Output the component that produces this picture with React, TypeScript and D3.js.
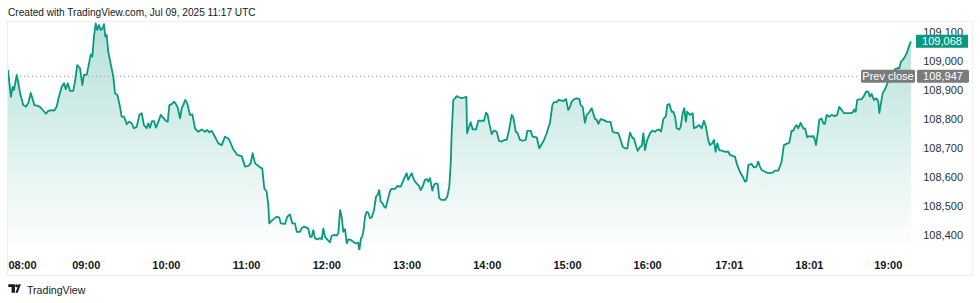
import React from "react";
import * as d3 from "d3";

// minutes after 08:00 UTC
const timeMinutes = [1.5,3.7,5.0,6.0,8.0,9.2,10.5,12.9,15.0,16.7,18.5,19.7,21.2,23.4,25.4,27.5,29.9,31.6,34.2,36.1,37.9,39.6,41.7,43.4,44.7,46.2,47.9,50.3,51.6,53.3,55.4,57.1,58.3,60.4,61.6,63.4,64.6,65.8,67.1,68.3,69.6,70.8,72.3,73.3,74.3,75.3,76.5,78.5,80.3,81.5,83.3,85.3,86.5,88.3,90.3,92.2,94.0,95.7,97.8,99.7,101.5,103.2,105.2,106.4,107.7,109.2,110.7,112.2,113.9,115.7,117.7,119.7,121.0,122.2,124.0,125.7,127.2,128.4,130.2,131.4,132.6,134.1,135.6,137.6,139.4,141.4,143.9,146.4,148.9,150.6,152.1,153.9,156.3,158.8,161.4,163.8,166.3,167.6,169.6,171.3,173.0,176.3,178.8,181.3,183.0,184.5,186.3,188.0,190.0,191.7,193.2,195.0,196.2,197.0,198.0,200.0,202.5,204.5,205.5,208.7,210.4,212.4,214.2,216.2,217.5,219.9,221.2,222.9,226.1,227.4,228.7,229.9,231.1,232.9,234.9,236.2,237.4,238.6,240.6,242.4,243.6,245.4,247.4,248.6,249.9,251.1,252.3,253.6,254.9,256.1,257.9,259.8,261.8,263.5,264.3,265.6,266.5,267.3,268.6,269.8,271.0,272.3,273.6,275.3,276.8,278.0,279.2,280.3,281.8,282.8,284.0,285.2,287.3,288.5,291.0,292.7,295.3,296.8,298.5,299.7,300.9,302.2,303.5,304.7,306.0,307.2,309.0,310.2,311.7,313.4,314.7,315.9,317.2,318.9,320.2,321.4,322.9,324.1,325.9,328.4,330.1,331.6,332.7,333.4,334.6,335.9,337.1,338.9,340.9,343.4,344.4,344.9,346.1,347.6,349.1,351.6,353.3,355.9,357.6,359.1,360.3,361.5,363.3,365.1,367.1,368.8,370.8,372.8,374.6,376.3,378.3,379.5,381.3,382.5,384.5,386.5,388.8,390.0,392.5,394.0,397.0,398.9,400.7,402.5,404.5,405.7,406.9,408.7,409.9,411.9,413.4,415.7,417.4,418.9,420.6,421.9,423.2,424.9,426.9,428.9,429.9,431.4,433.1,434.4,436.1,438.1,439.3,440.6,441.9,443.1,444.9,446.8,449.4,452.3,453.8,455.6,458.0,459.8,461.3,463.0,464.8,466.0,466.8,468.8,469.8,471.3,472.6,474.3,475.6,476.8,478.0,479.7,481.8,483.5,485.5,486.8,488.7,490.0,491.7,493.7,494.7,496.2,498.0,499.2,500.5,501.7,503.7,504.7,506.2,507.4,508.6,509.6,511.6,513.7,514.6,516.7,518.6,520.4,522.1,523.6,525.3,526.6,528.3,529.6,530.8,532.1,533.6,535.4,537.8,540.3,541.6,544.0,545.3,547.0,549.0,551.1,552.8,554.0,555.3,557.8,559.5,561.5,562.7,564.0,565.3,567.7,570.2,573.5,575.2,577.7,578.9,580.2,581.9,583.9,585.9,587.7,588.9,590.2,591.4,592.6,594.4,596.4,597.7,599.4,600.9,602.7,603.9,605.1,605.9,606.9,608.4,610.2,611.3,612.6,613.9,615.8,617.6,620.1,621.8,623.3,625.1,626.8,628.8,631.3,633.3,634.5,635.6,636.8,638.1,640.1,641.8,643.3,645.0,646.3,647.6,649.3,651.3,652.5,653.3,654.3,655.8,657.5,658.8,660.5,662.0,663.7,665.0,666.8,668.2,669.5,671.2,672.5,673.8,675.0,676.3,677.0];

const priceValues = [108969,108876,108911,108900,108952,108924,108890,108848,108842,108855,108890,108872,108848,108846,108842,108831,108818,108828,108831,108829,108842,108877,108911,108923,108903,108923,108897,108897,108929,108986,108975,108917,108952,108952,108980,109023,109015,109084,109130,109107,109124,109107,109113,109127,109084,109090,109032,108986,108946,108889,108883,108842,108808,108808,108782,108791,108785,108768,108773,108814,108820,108779,108768,108785,108770,108793,108793,108770,108789,108814,108804,108793,108791,108848,108851,108860,108851,108839,108802,108837,108848,108866,108854,108814,108816,108768,108756,108764,108756,108762,108754,108759,108739,108716,108710,108739,108733,108722,108699,108687,108676,108672,108636,108638,108647,108682,108647,108641,108633,108630,108561,108549,108503,108440,108446,108454,108463,108460,108440,108438,108463,108471,108440,108440,108411,108411,108423,108429,108423,108394,108394,108417,108389,108385,108389,108385,108423,108394,108383,108375,108397,108400,108398,108406,108486,108463,108411,108420,108371,108385,108383,108377,108371,108373,108348,108389,108394,108411,108463,108480,108477,108458,108461,108486,108532,108538,108555,108515,108509,108498,108494,108515,108552,108559,108559,108569,108567,108584,108601,108613,108590,108603,108613,108596,108584,108578,108569,108555,108567,108590,108593,108584,108596,108553,108572,108578,108576,108527,108521,108521,108532,108567,108647,108751,108866,108871,108879,108875,108872,108875,108876,108751,108768,108789,108764,108764,108794,108794,108794,108822,108814,108785,108748,108760,108756,108725,108722,108728,108728,108762,108814,108806,108756,108753,108728,108725,108728,108759,108759,108739,108737,108699,108713,108728,108751,108770,108785,108848,108858,108858,108866,108863,108863,108869,108831,108842,108860,108868,108871,108869,108848,108842,108787,108814,108822,108837,108820,108800,108797,108783,108800,108797,108791,108789,108756,108753,108751,108728,108704,108699,108699,108733,108753,108733,108733,108707,108690,108704,108707,108751,108693,108728,108751,108760,108756,108762,108764,108756,108799,108810,108848,108852,108825,108825,108808,108768,108764,108773,108820,108837,108791,108825,108814,108820,108768,108773,108779,108768,108794,108773,108728,108710,108716,108728,108687,108716,108693,108691,108687,108687,108676,108672,108670,108641,108618,108601,108584,108587,108641,108645,108633,108636,108653,108636,108624,108618,108613,108615,108622,108622,108636,108653,108710,108714,108718,108760,108759,108773,108779,108768,108787,108768,108768,108737,108741,108739,108742,108728,108710,108739,108797,108802,108785,108783,108814,108808,108814,108810,108814,108842,108831,108820,108820,108820,108822,108833,108825,108866,108868,108868,108879,108894,108894,108877,108886,108866,108871,108860,108820,108848,108889,108902,108917,108937,108946,108958,108971,108975,108975,108998,109006,109015,109027,109044,109061,109068];

const yTickValues = [108400, 108500, 108600, 108700, 108800, 108900, 109000, 109100];
const xTickLabels = ["08:00", "09:00", "10:00", "11:00", "12:00", "13:00", "14:00", "15:00", "16:00", "17:01", "18:01", "19:00"];
const xTickMinutes = [0, 60, 120, 180, 240, 300, 360, 420, 480, 541, 601, 660];

const prevClose = 108947;
const lastPrice = 109068;
const headerText = "Created with TradingView.com, Jul 09, 2025 11:17 UTC";

const GREEN = "#089981";
const GRAY = "#7b7b7b";
const FONT = "'Liberation Sans', Arial, Helvetica, sans-serif";

export default function App() {
  const W = 980, H = 303;
  const x = d3.scaleLinear().domain([0, 677]).range([6, 911]);
  const y = d3.scaleLinear().domain([108400, 109100]).range([235, 32]);
  const data = timeMinutes.map((m, i) => ({ m, v: priceValues[i] }));
  const plotBottom = 250;
  const line = d3.line<{ m: number; v: number }>().x(d => x(d.m)).y(d => y(d.v));
  const area = d3.area<{ m: number; v: number }>().x(d => x(d.m)).y0(plotBottom).y1(d => y(d.v));
  const fmt = d3.format(",");
  const lastX = x(timeMinutes[timeMinutes.length - 1]);

  return (
    <svg width={W} height={H} style={{ position: "absolute", left: 0, top: 0, background: "#fff" }} fontFamily={FONT}>
      <defs>
        <linearGradient id="areaGrad" gradientUnits="userSpaceOnUse" x1="0" y1="22" x2="0" y2={plotBottom}>
          <stop offset="0" stopColor={GREEN} stopOpacity={0.3} />
          <stop offset="1" stopColor={GREEN} stopOpacity={0.0} />
        </linearGradient>
        <clipPath id="plotClip">
          <rect x={8} y={21} width={lastX - 8 + 2} height={plotBottom - 21} />
        </clipPath>
      </defs>
      <rect x={0} y={0} width={W} height={H} fill="#fff" />
      <text x={8} y={16} fontSize={10.1} fill="#131722">{headerText}</text>
      <rect x={7.5} y={21.5} width={965} height={254} fill="none" stroke="#eceef2" />
      <g clipPath="url(#plotClip)">
        <path d={area(data) || ""} fill="url(#areaGrad)" />
      </g>
      <line x1={8} x2={860} y1={y(prevClose)} y2={y(prevClose)} stroke="#9598a1" strokeDasharray="1 3" strokeWidth={1} />
      <path d={line(data) || ""} fill="none" stroke={GREEN} strokeWidth={1.8} strokeLinejoin="round" clipPath="url(#plotClip)" />
      {yTickValues.map(v => (
        <text key={v} x={963} y={y(v)} dy="0.35em" textAnchor="end" fontSize={11} fill="#2a2e39">{fmt(v)}</text>
      ))}
      {xTickLabels.map((lab, i) => {
        const cx = x(xTickMinutes[i]);
        const left = Math.max(cx, 22.5);
        return (
          <text key={lab} x={left} y={265} dy="0.35em" textAnchor="middle" fontSize={11} fontWeight={700} fill="#131722">{lab}</text>
        );
      })}
      <rect x={916} y={y(lastPrice) - 6.5} width={52} height={13} fill={GREEN} />
      <text x={942} y={y(lastPrice)} dy="0.35em" textAnchor="middle" fontSize={11} fill="#fff">{fmt(lastPrice)}</text>
      <rect x={861} y={y(prevClose) - 6.5} width={54} height={13} rx={1.5} fill={GRAY} />
      <text x={888} y={y(prevClose)} dy="0.35em" textAnchor="middle" fontSize={11} fill="#fff">Prev close</text>
      <rect x={917} y={y(prevClose) - 6.5} width={52} height={13} rx={1.5} fill={GRAY} />
      <text x={943} y={y(prevClose)} dy="0.35em" textAnchor="middle" fontSize={11} fill="#fff">{fmt(prevClose)}</text>
      <g transform="translate(8.3,284.3)" fill="#131722">
        <path d="M0 0H6.6V8.4H3.3V2.7H0Z" />
        <circle cx={8.3} cy={1.5} r={1.5} />
        <path d="M10.3 0H12.5L9.4 8.4H7.2Z" />
      </g>
      <text x={27} y={290} dy="0.35em" fontSize={10.6} fill="#131722">TradingView</text>
    </svg>
  );
}
